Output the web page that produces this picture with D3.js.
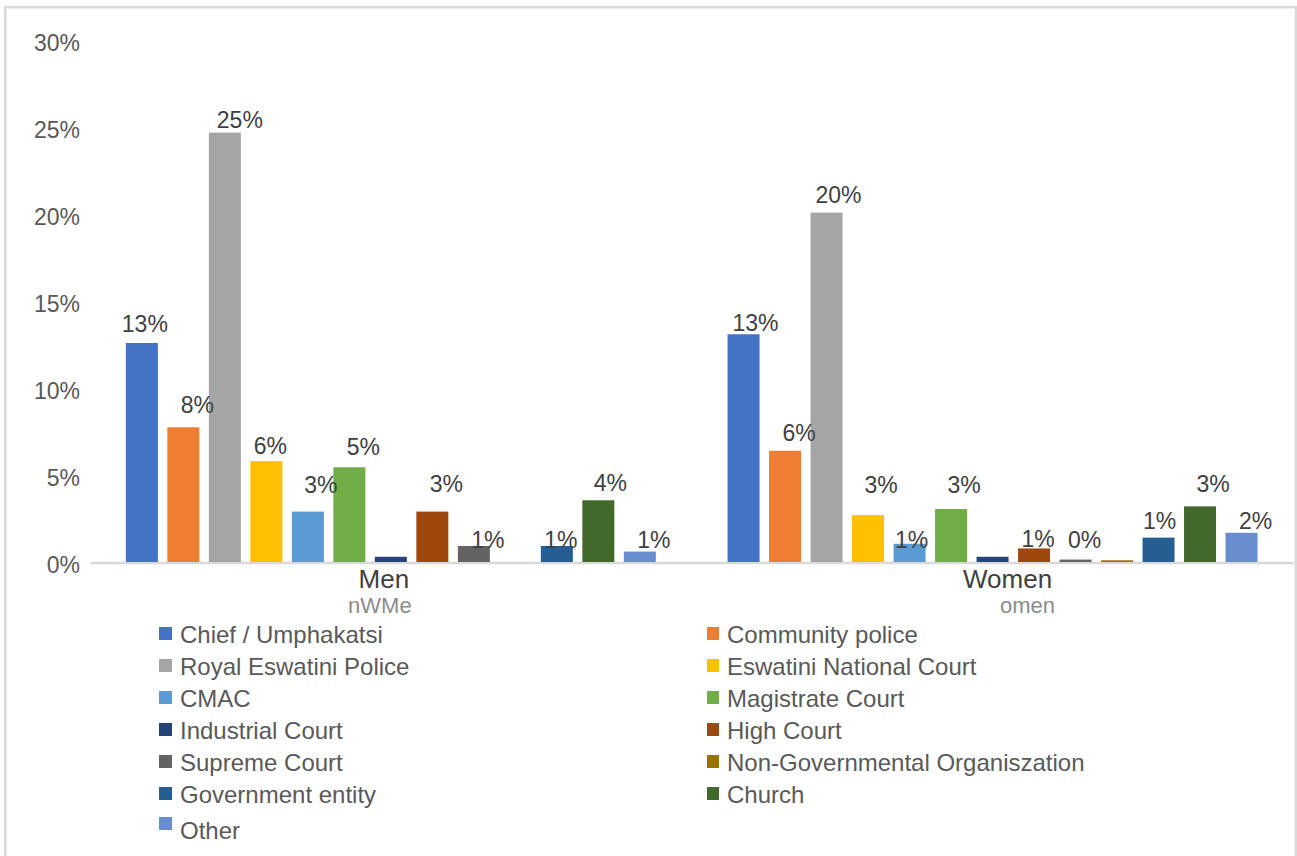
<!DOCTYPE html>
<html>
<head>
<meta charset="utf-8">
<script src="https://cdn.jsdelivr.net/npm/d3@7"></script>
<style>
  html, body { margin: 0; padding: 0; background: #ffffff; }
  svg { display: block; font-family: "Liberation Sans", Arial, sans-serif; }
</style>
</head>
<body>
<svg id="chart" width="1297" height="856"></svg>
<script>
// ---- data ----
const categories = ["Men", "Women"];
const subLabels = ["nWMe", "omen"];
const series = [
  "Chief / Umphakatsi", "Community police", "Royal Eswatini Police",
  "Eswatini National Court", "CMAC", "Magistrate Court", "Industrial Court",
  "High Court", "Supreme Court", "Non-Governmental Organiszation",
  "Government entity", "Church", "Other"
];
// percent of respondents
const menValues   = [12.6, 7.75, 24.7, 5.8, 2.9, 5.45, 0.3, 2.9, 0.92, 0, 0.92, 3.55, 0.6];
const womenValues = [13.1, 6.4, 20.1, 2.7, 1.05, 3.05, 0.3, 0.78, 0.14, 0.1, 1.4, 3.2, 1.68];
// series whose value is printed above the bar
const labelledSeries = [true, true, true, true, true, true, false, true, true, false, true, true, true];
const yTicks = [0, 5, 10, 15, 20, 25, 30];

// ---- styling ----
const seriesColors = [
  "#4472C4", "#ED7D31", "#A5A5A5", "#FFC000", "#5B9BD5", "#70AD47", "#264478",
  "#9E480E", "#636363", "#997300", "#255E91", "#43682B", "#698ED0"
];
// hand-placed data label offsets [dx, dy] from the default spot above each bar
const labelNudge = {
  Men:   [[3,-5],[14,-8],[15,1],[4,-1],[13,-13],[14,-6],null,[14,-14],[14,8],null,[4,8],[12,-3],[14,2]],
  Women: [[12,3],[14,-4],[12,-4],[13,-16],[2,10],[13,-10],null,[4,5],[9,-6],null,[1,-3],[13,-8],[14,2]]
};
const categoryNudge = { Men: -7, Women: 15 };
const subLabelNudge = { Men: -11, Women: 35 };

const valuesByCategory = { Men: menValues, Women: womenValues };
const rows = categories.map(c => ({
  category: c,
  values: series.map((s, i) => ({ series: s, index: i, value: valuesByCategory[c][i] }))
}));

const svg = d3.select("#chart");

// outer frame
svg.append("rect")
  .attr("x", 5.3).attr("y", 7.2)
  .attr("width", 1290.6).attr("height", 900)
  .attr("fill", "none").attr("stroke", "#d9d9d9").attr("stroke-width", 2.5);

const plot = { left: 90, right: 1293.4, top: 40.5, bottom: 562 };

const x0 = d3.scaleBand()
  .domain(categories)
  .range([plot.left, plot.right])
  .paddingInner(0.1034)
  .paddingOuter(0.0517);

const x1 = d3.scaleBand()
  .domain(series)
  .range([0, x0.bandwidth()])
  .paddingInner(0.229)
  .paddingOuter(0.1145);

const y = d3.scaleLinear().domain([0, 30]).range([plot.bottom, plot.top]);

// y axis (labels only)
const yAxis = svg.append("g")
  .attr("transform", `translate(${plot.left},0)`)
  .call(d3.axisLeft(y).tickValues(yTicks).tickSize(0).tickPadding(10).tickFormat(d => d + "%"));
yAxis.select(".domain").remove();
yAxis.selectAll("text")
  .attr("dy", "0.45em")
  .style("font-size", "23px")
  .style("font-family", "'Liberation Sans', Arial, sans-serif")
  .attr("fill", "#595959");

// category axis
const xAxis = svg.append("g")
  .attr("transform", `translate(0,${plot.bottom + 0.6})`)
  .call(d3.axisBottom(x0).tickSize(0).tickPadding(0));
xAxis.select(".domain")
  .attr("stroke", "#d9d9d9").attr("stroke-width", 2.5);
xAxis.selectAll(".tick text")
  .attr("y", 25)
  .attr("dy", 0)
  .attr("dx", d => categoryNudge[d])
  .style("font-size", "26px")
  .style("font-family", "'Liberation Sans', Arial, sans-serif")
  .attr("fill", "#404040");
xAxis.selectAll(".tick").append("text")
  .attr("y", 50.5)
  .attr("dx", d => subLabelNudge[d])
  .attr("text-anchor", "middle")
  .style("font-size", "22px")
  .style("font-family", "'Liberation Sans', Arial, sans-serif")
  .attr("fill", "#8c8c8c")
  .text(d => subLabels[categories.indexOf(d)]);

// bars
const groups = svg.append("g").selectAll("g")
  .data(rows)
  .join("g")
  .attr("transform", d => `translate(${x0(d.category)},0)`);

groups.selectAll("rect")
  .data(d => d.values)
  .join("rect")
  .attr("x", d => x1(d.series))
  .attr("width", x1.bandwidth())
  .attr("y", d => y(d.value))
  .attr("height", d => y(0) - y(d.value))
  .attr("fill", d => seriesColors[d.index]);

// data labels
const fmt = d3.format(".0%");
groups.each(function(row) {
  const nudges = labelNudge[row.category];
  d3.select(this).selectAll("text.value")
    .data(row.values.filter(d => labelledSeries[d.index]))
    .join("text")
    .attr("class", "value")
    .attr("text-anchor", "middle")
    .attr("x", d => x1(d.series) + x1.bandwidth() / 2 + nudges[d.index][0])
    .attr("y", d => y(d.value) - 6 + nudges[d.index][1])
    .style("font-size", "23px")
    .attr("fill", "#404040")
    .text(d => fmt(d.value / 100));
});

// legend: two columns, filled row by row
const legend = svg.append("g");
const colX = [159, 707];
const textX = [180, 727];
const rowH = 32;
const legendTop = 634;
const items = legend.selectAll("g")
  .data(series.map((s, i) => ({ name: s, index: i })))
  .join("g")
  .attr("transform", d => {
    const row = Math.floor(d.index / 2);
    return `translate(0,${legendTop + row * rowH})`;
  });
items.append("rect")
  .attr("x", d => colX[d.index % 2])
  .attr("y", d => (d.index === series.length - 1 ? -9 : -7))
  .attr("width", d => (d.index % 2 === 0 ? 13 : 12))
  .attr("height", 13)
  .attr("fill", d => seriesColors[d.index]);
items.append("text")
  .attr("x", d => textX[d.index % 2])
  .attr("y", d => (d.index === series.length - 1 ? 12.6 : 8.6))
  .style("font-size", "24px")
  .attr("fill", "#595959")
  .text(d => d.name);
</script>
</body>
</html>
